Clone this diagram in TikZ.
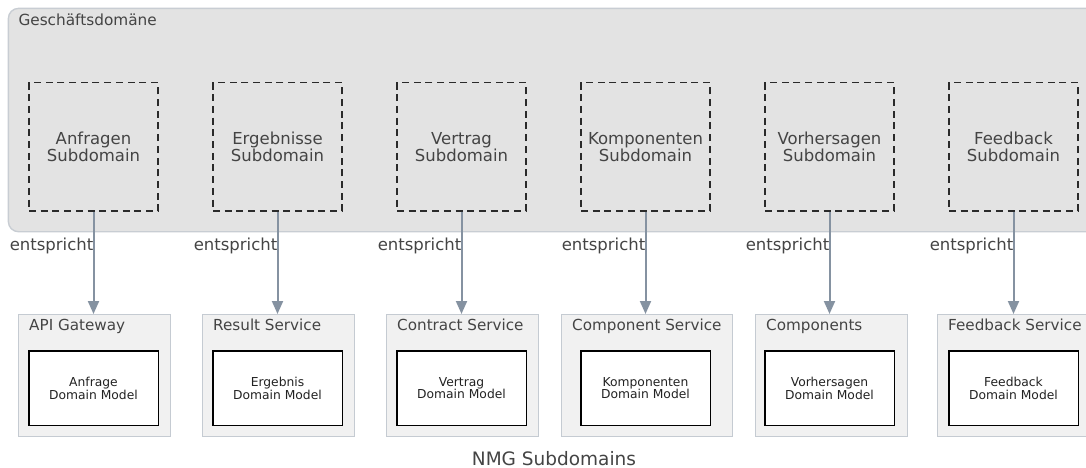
\documentclass[tikz,border=0pt]{standalone}
\usepackage{fontspec}
\setmainfont{DejaVu Sans}
\usetikzlibrary{arrows.meta}

\definecolor{domfill}{HTML}{E3E3E3}
\definecolor{domline}{HTML}{C8CDD3}
\definecolor{svcfill}{HTML}{F1F1F1}
\definecolor{svcline}{HTML}{C5CBD2}
\definecolor{txt}{HTML}{444444}
\definecolor{modeltxt}{HTML}{222222}
\definecolor{linkc}{HTML}{8592A1}
\definecolor{dashc}{HTML}{2A2A2A}

\tikzset{
  domainbox/.style={draw=domline, line width=1.4pt, fill=domfill, rounded corners=10pt,
    inner sep=0pt, anchor=north west},
  subbox/.style={draw=dashc, line width=1.2pt, dash pattern=on 7pt off 4.7pt,
    minimum width=129pt, minimum height=128.3pt, inner sep=0pt, align=center,
    text=txt, font=\fontsize{16.5}{17.2}\selectfont},
  svcbox/.style={draw=svcline, line width=1.3pt, fill=svcfill, inner sep=0pt,
    minimum height=121.7pt},
  svctitle/.style={anchor=base west, inner sep=0pt, text=txt,
    font=\fontsize{15.2}{17}\selectfont},
  modelbox/.style={draw=black, line width=1.3pt, fill=white, minimum width=129.3pt,
    minimum height=74.3pt, inner sep=0pt, align=center, text=modeltxt,
    font=\fontsize{12.3}{12.7}\selectfont},
  link/.style={draw=linkc, line width=2pt, -{Triangle[width=11pt,length=13pt]}},
  linklabel/.style={anchor=base east, inner sep=0pt, text=txt,
    font=\fontsize{16.5}{18}\selectfont},
}

\begin{document}
\begin{tikzpicture}[x=1pt,y=-1pt]
\useasboundingbox (0,0) rectangle (1086,468);
\clip (0,0) rectangle (1086,468);

% business domain frame
\node[domainbox, minimum width=1095pt, minimum height=223.3pt] (dom) at (7.7,7.7) {};
\node[anchor=base west, inner sep=0pt, text=txt, font=\fontsize{15.3}{17}\selectfont]
  (domlabel) at (18.3,26) {Geschäftsdomäne};

% subdomains
\foreach \i/\name [evaluate=\i as \cx using 93.5+184*\i] in
  {0/Anfragen, 1/Ergebnisse, 2/Vertrag, 3/Komponenten, 4/Vorhersagen, 5/Feedback}
  \node[subbox] (sub\i) at (\cx,146.9) {\name\\Subdomain};

% services
\foreach \i/\l/\r/\title in
  {0/18/170/API Gateway, 1/202/354/Result Service, 2/386/538/Contract Service,
   3/561/732/Component Service, 4/755/907/Components, 5/937/1092/Feedback Service}
{
  \node[svcbox, minimum width=\r-\l, anchor=north west] (svc\i) at (\l,314) {};
  \node[svctitle] (svct\i) at (\l+11,330.7) {\title};
}

% domain models
\foreach \i/\name [evaluate=\i as \cx using 93.5+184*\i] in
  {0/Anfrage, 1/Ergebnis, 2/Vertrag, 3/Komponenten, 4/Vorhersagen, 5/Feedback}
  \node[modelbox] (dm\i) at (\cx,388.2) {\name\\Domain Model};

% correspondence links
\foreach \i [evaluate=\i as \cx using 93.5+184*\i] in {0,...,5}
{
  \draw[link] (sub\i.south) -- (sub\i.south |- svc\i.north);
  \node[linklabel] (lbl\i) at (\cx,250.8) {entspricht};
}

% caption
\node[anchor=base, inner sep=0pt, text=txt, font=\fontsize{18.5}{20}\selectfont]
  (caption) at (554,465) {NMG Subdomains};
\end{tikzpicture}
\end{document}
